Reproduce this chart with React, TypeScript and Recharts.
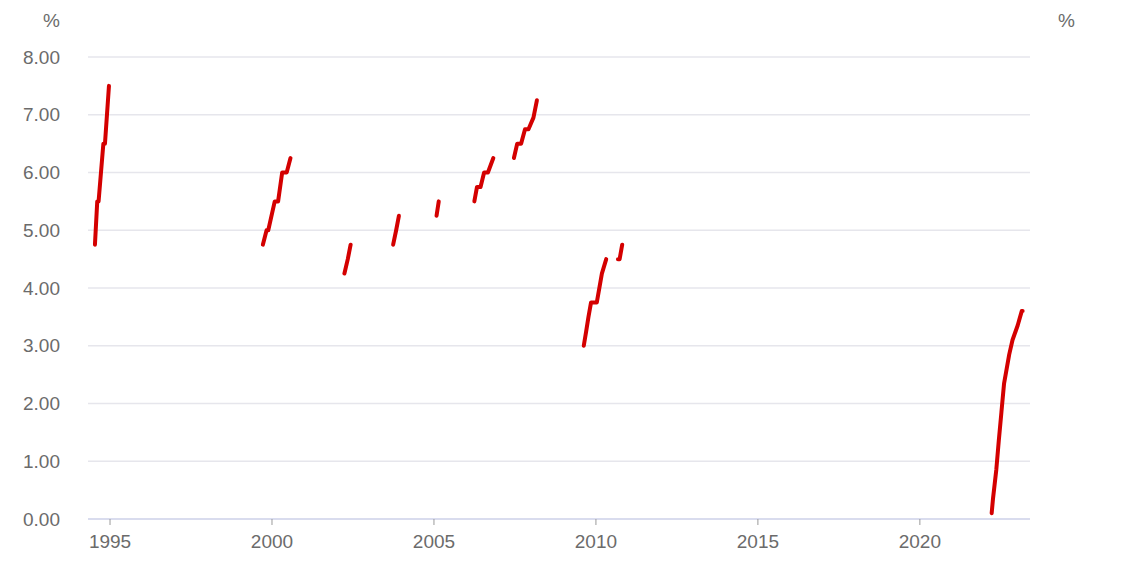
import React from "react";
import { LineChart, Line, XAxis, YAxis, CartesianGrid } from "recharts";

// Cash rate during tightening phases (date, %).
type Pt = [string, number];

const EP_1994: Pt[] = [
  ["1994-07-15", 4.75], ["1994-08-10", 5.5], ["1994-08-25", 5.5],
  ["1994-10-18", 6.5], ["1994-11-05", 6.5], ["1994-12-20", 7.5],
];
const EP_1999: Pt[] = [
  ["1999-09-20", 4.75], ["1999-11-01", 5.0], ["1999-11-20", 5.0], ["2000-02-01", 5.5],
  ["2000-03-10", 5.5], ["2000-04-25", 6.0], ["2000-06-15", 6.0], ["2000-07-28", 6.25],
];
const EP_2002: Pt[] = [["2002-03-28", 4.25], ["2002-05-05", 4.5], ["2002-06-06", 4.75]];
const EP_2003: Pt[] = [["2003-09-28", 4.75], ["2003-11-01", 5.0], ["2003-12-02", 5.25]];
const EP_2005: Pt[] = [["2005-01-30", 5.25], ["2005-02-24", 5.5]];
const EP_2006: Pt[] = [
  ["2006-04-01", 5.5], ["2006-05-01", 5.75], ["2006-06-10", 5.75],
  ["2006-07-20", 6.0], ["2006-09-01", 6.0], ["2006-11-01", 6.25],
];
const EP_2007: Pt[] = [
  ["2007-06-21", 6.25], ["2007-07-28", 6.5], ["2007-09-10", 6.5], ["2007-10-24", 6.75],
  ["2007-12-02", 6.75], ["2008-01-27", 6.95], ["2008-03-06", 7.25],
];
const EP_2009: Pt[] = [
  ["2009-08-17", 3.0], ["2009-09-13", 3.25], ["2009-10-09", 3.5], ["2009-11-07", 3.75],
  ["2010-01-11", 3.75], ["2010-03-09", 4.25], ["2010-04-27", 4.5],
];
const EP_2010: Pt[] = [["2010-09-06", 4.5], ["2010-09-25", 4.5], ["2010-10-24", 4.75]];
const EP_2022: Pt[] = [
  ["2022-03-21", 0.1], ["2022-04-05", 0.35], ["2022-05-12", 0.85], ["2022-06-09", 1.35],
  ["2022-07-09", 1.85], ["2022-08-08", 2.35], ["2022-09-06", 2.6], ["2022-10-05", 2.85],
  ["2022-11-11", 3.1], ["2023-01-08", 3.35], ["2023-02-23", 3.6], ["2023-03-05", 3.6],
];

const EPISODES = [EP_1994, EP_1999, EP_2002, EP_2003, EP_2005, EP_2006, EP_2007, EP_2009, EP_2010, EP_2022];

const X_TICKS = [1995, 2000, 2005, 2010, 2015, 2020];
const Y_TICKS = [0, 1, 2, 3, 4, 5, 6, 7, 8];

const RED = "#d40000";
const TEXT = "#6b6b6b";
const FONT = "'Liberation Sans', Arial, sans-serif";

// date string -> decimal year
const toYear = (d: string) => {
  const [y, m, dd] = d.split("-").map(Number);
  const start = Date.UTC(y, 0, 1);
  const end = Date.UTC(y + 1, 0, 1);
  return y + (Date.UTC(y, m - 1, dd) - start) / (end - start);
};

const series = EPISODES.map((ep) => ep.map(([d, v]) => ({ t: toYear(d), rate: v })));

const PctLabel = (props: any) => {
  const vb = props.viewBox || {};
  const right = props.side === "right";
  return (
    <text
      x={right ? vb.x + 28 : vb.x + vb.width - 28}
      y={vb.y - 30}
      textAnchor={right ? "start" : "end"}
      fill={TEXT}
      fontSize={19}
      fontFamily={FONT}
    >
      %
    </text>
  );
};

export default function App() {
  const tickStyle = { fill: TEXT, fontSize: 19, fontFamily: FONT };
  return (
    <div style={{ position: "absolute", left: 0, top: 0, background: "#fff" }}>
      <LineChart width={1121} height={571} margin={{ top: 57, right: 0, bottom: 22, left: 0 }}>
        <CartesianGrid yAxisId="left" vertical={false} stroke="#e6e6ec" strokeWidth={1.5} />
        <XAxis
          type="number"
          dataKey="t"
          domain={[1994.32, 2023.4]}
          ticks={X_TICKS}
          allowDataOverflow
          height={30}
          tick={tickStyle}
          tickSize={6}
          tickMargin={10}
          tickLine={{ stroke: "#9a9a9a" }}
          axisLine={{ stroke: "#d9dcee", strokeWidth: 2 }}
        />
        <YAxis
          yAxisId="left"
          orientation="left"
          width={88}
          domain={[0, 8]}
          ticks={Y_TICKS}
          tickFormatter={(v: number) => v.toFixed(2)}
          tick={tickStyle}
          tickSize={0}
          tickMargin={28}
          tickLine={false}
          axisLine={false}
          label={<PctLabel side="left" />}
        />
        <YAxis
          yAxisId="right"
          orientation="right"
          width={91}
          domain={[0, 8]}
          ticks={Y_TICKS}
          tickFormatter={(v: number) => v.toFixed(2)}
          tick={tickStyle}
          tickSize={0}
          tickMargin={28}
          tickLine={false}
          axisLine={false}
          label={<PctLabel side="right" />}
        />
        {series.map((data, i) => (
          <Line
            key={i}
            yAxisId="left"
            data={data}
            dataKey="rate"
            type="linear"
            stroke={RED}
            strokeWidth={4}
            strokeLinecap="round"
            strokeLinejoin="round"
            dot={false}
            activeDot={false}
            isAnimationActive={false}
          />
        ))}
      </LineChart>
    </div>
  );
}
